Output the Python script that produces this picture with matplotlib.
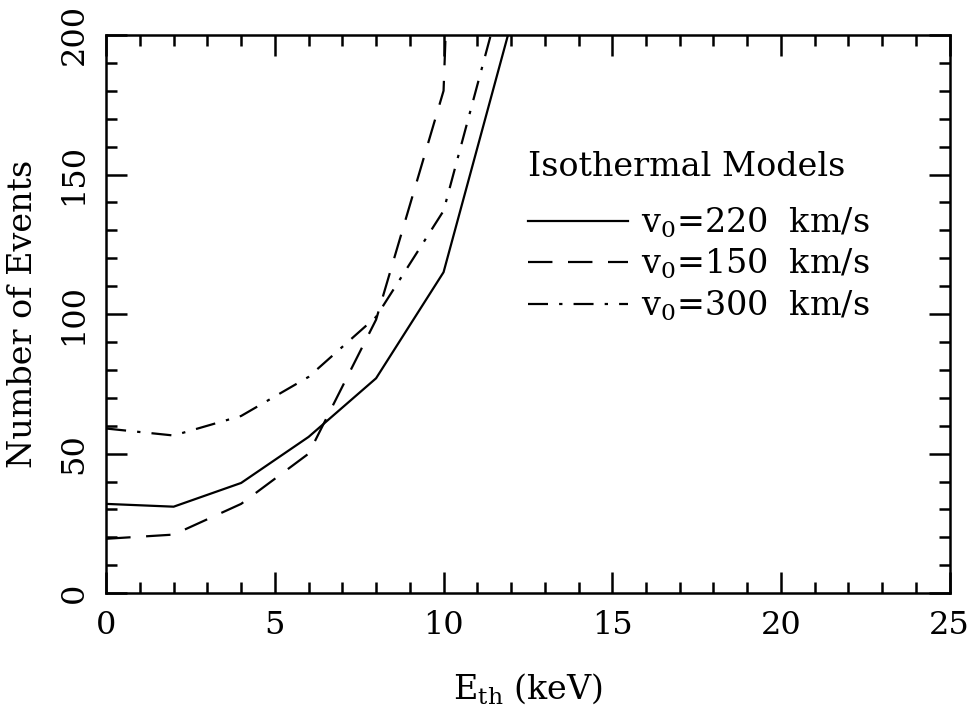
import matplotlib
matplotlib.use("Agg")
import matplotlib.pyplot as plt
from matplotlib.ticker import MultipleLocator

plt.rcParams['font.family'] = ['DejaVu Serif']
plt.rcParams['mathtext.fontset'] = 'dejavuserif'

# threshold energy (keV)
e_th = [0, 2, 4, 6, 8, 10, 12]
# number of events for each halo model
n_220 = [32, 31, 39.5, 56, 77, 115, 204]
n_150 = [19.5, 21, 32, 50, 98, 180, 840]
n_300 = [59, 56.5, 63.5, 77.5, 99, 137, 227]

fig = plt.figure(figsize=(9.74, 7.13), dpi=100)
ax = fig.add_axes([0.109, 0.168, 0.866, 0.783])

ax.plot(e_th, n_220, "k-", lw=1.6, label=r"v$_0$=220  km/s")
ax.plot(e_th, n_150, "k", lw=1.6, dashes=(11, 7), label=r"v$_0$=150  km/s")
ax.plot(e_th, n_300, "k", lw=1.6, dashes=(9, 5, 1.5, 5), label=r"v$_0$=300  km/s")

ax.set_xlim(0, 25)
ax.set_ylim(0, 200)
ax.xaxis.set_major_locator(MultipleLocator(5))
ax.xaxis.set_minor_locator(MultipleLocator(1))
ax.yaxis.set_major_locator(MultipleLocator(50))
ax.yaxis.set_minor_locator(MultipleLocator(10))
ax.tick_params(which="both", direction="in", top=True, right=True, width=1.8, labelsize=23)
ax.tick_params(which="major", length=15, pad=12)
ax.tick_params(which="minor", length=8)
for lbl in ax.get_yticklabels():
    lbl.set_rotation(90)
    lbl.set_va("center")
for s in ax.spines.values():
    s.set_linewidth(1.8)

ax.set_xlabel(r"E$_{\rm th}$ (keV)", fontsize=24, labelpad=22)
ax.set_ylabel("Number of Events", fontsize=24, labelpad=14)

leg = ax.legend(loc="upper left", bbox_to_anchor=(0.48, 0.822), frameon=False,
                fontsize=24, handlelength=3.0, handletextpad=0.4, labelspacing=0.22,
                title="Isothermal Models", title_fontsize=24, borderpad=0)
leg._legend_box.align = "left"
leg._legend_box.sep = 16

fig.savefig("out.png", dpi=100)
